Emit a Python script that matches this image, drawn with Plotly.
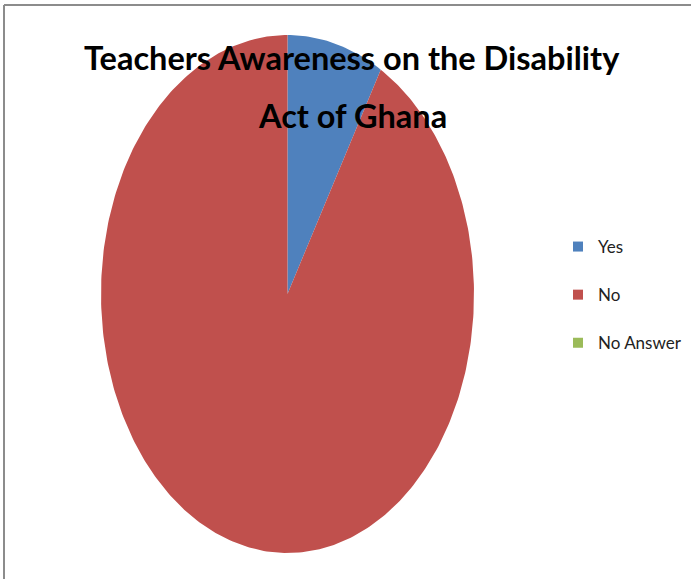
import numpy as np
import plotly.graph_objects as go

# Survey responses
categories = ["Yes", "No", "No Answer"]
counts = [5, 55, 0]
colors = ["#4F81BD", "#C0504D", "#9BBB59"]

title_lines = ["Teachers Awareness on the Disability", "Act of Ghana"]

# Canvas geometry (pixel-like axis units, y pointing down)
W, H = 691, 579
cx, cy = 287.5, 294.0
rx, ry = 186.5, 259.0

fig = go.Figure()

total = sum(counts)
start = 0.0
for name, val, col in zip(categories, counts, colors):
    frac = val / total
    if frac > 0:
        th = np.linspace(start, start + frac * 2 * np.pi, max(int(frac * 400), 4))
        xs = np.concatenate([[cx], cx + rx * np.sin(th), [cx]])
        ys = np.concatenate([[cy], cy - ry * np.cos(th), [cy]])
        fig.add_trace(go.Scatter(
            x=xs, y=ys, fill="toself", fillcolor=col, mode="lines",
            line=dict(width=0, color=col), showlegend=False, hoverinfo="skip",
        ))
    start += frac * 2 * np.pi

# Legend entries with square swatches
for i, (name, col) in enumerate(zip(categories, colors)):
    fig.add_trace(go.Scatter(
        x=[None], y=[None], mode="markers", name=name,
        marker=dict(symbol="square", size=10, color=col),
        legendgroup=f"g{i}",
    ))

for i, (txt, yy) in enumerate(zip(title_lines, [57, 115])):
    fig.add_annotation(
        x=352, y=yy, xref="x", yref="y", text=f"<b>{txt}</b>", showarrow=False,
        font=dict(family="Lato", size=32.5, color="black"),
        xanchor="center", yanchor="middle",
    )

# Outer frame (top and left edges visible)
fig.add_shape(type="line", x0=4, x1=W, y0=5, y1=5, xref="x", yref="y",
              line=dict(color="#8c8c8c", width=2))
fig.add_shape(type="line", x0=4, x1=4, y0=5, y1=H, xref="x", yref="y",
              line=dict(color="#8c8c8c", width=2))

fig.update_xaxes(range=[0, W], visible=False, fixedrange=True)
fig.update_yaxes(range=[H, 0], visible=False, fixedrange=True)
fig.update_layout(
    width=W, height=H,
    margin=dict(l=0, r=0, t=0, b=0, autoexpand=False),
    paper_bgcolor="white", plot_bgcolor="white",
    legend=dict(
        x=558 / W, y=1 - 229 / H, xanchor="left", yanchor="top",
        font=dict(family="Lato", size=17, color="#222"),
        tracegroupgap=23, itemwidth=30, bgcolor="rgba(0,0,0,0)",
    ),
)

fig.write_html("out.html")
